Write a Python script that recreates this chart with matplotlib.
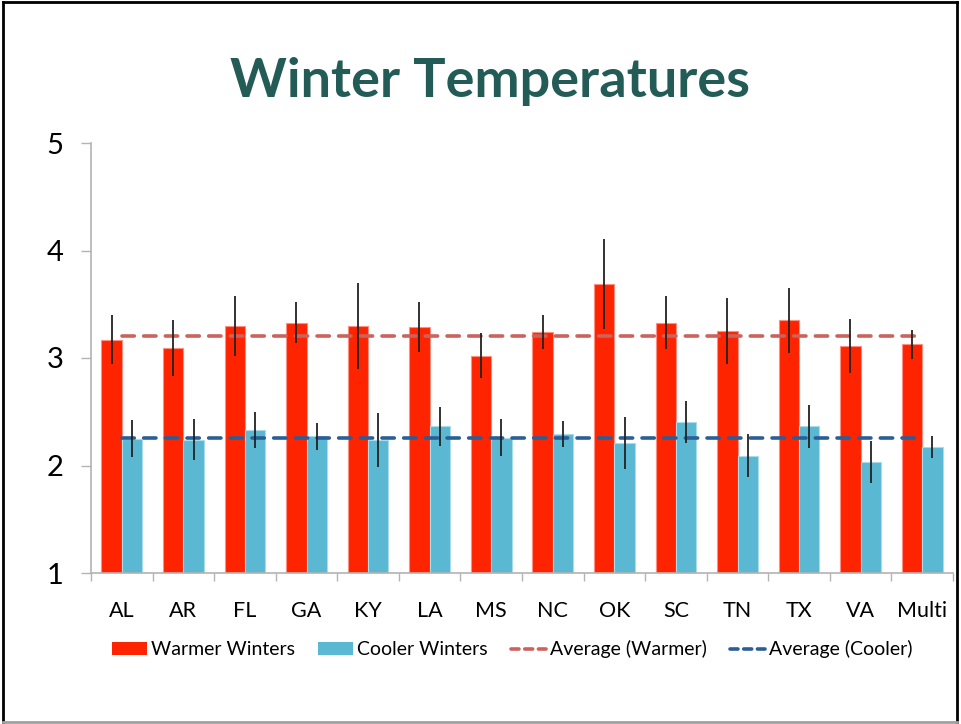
import matplotlib.pyplot as plt
from matplotlib.patches import Patch
from matplotlib.lines import Line2D
import numpy as np

# values
STATES = ['AL', 'AR', 'FL', 'GA', 'KY', 'LA', 'MS', 'NC', 'OK', 'SC', 'TN', 'TX', 'VA', 'Multi']
warmer = [3.17, 3.09, 3.30, 3.33, 3.30, 3.29, 3.02, 3.24, 3.69, 3.33, 3.25, 3.35, 3.11, 3.13]
warmer_err = [0.23, 0.26, 0.28, 0.19, 0.40, 0.23, 0.21, 0.16, 0.42, 0.25, 0.31, 0.30, 0.25, 0.135]
cooler = [2.25, 2.24, 2.33, 2.27, 2.24, 2.365, 2.26, 2.29, 2.21, 2.405, 2.09, 2.365, 2.03, 2.17]
cooler_err = [0.17, 0.19, 0.165, 0.13, 0.25, 0.18, 0.17, 0.12, 0.24, 0.195, 0.20, 0.20, 0.195, 0.10]
avg_warmer = 3.205
avg_cooler = 2.256

RED = '#ff2400'
CYAN = '#5bb8d3'
AVG_RED = '#cc625c'
AVG_BLUE = '#2a5e96'
AXIS_GRAY = '#b3b3b3'
TITLE_COLOR = '#235b57'

plt.rcParams['font.family'] = ['Lato', 'DejaVu Sans']

fig = plt.figure(figsize=(9.61, 7.24), dpi=100)
ax = fig.add_axes([91/961, 151/724, 862/961, 430/724])

x = np.arange(len(STATES))
WIDTH = 0.33
ax.bar(x - WIDTH/2, warmer, WIDTH, color=RED, edgecolor='#ff8f80', linewidth=0.8, zorder=2)
ax.bar(x + WIDTH/2, cooler, WIDTH, color=CYAN, edgecolor='#a8dcea', linewidth=0.8, zorder=2)

# Excel-like long dashes
dash = (0, (3.4, 2.6))
ax.plot([x[0], x[-1]], [avg_warmer]*2, color=AVG_RED, lw=2.6, ls=dash,
        dash_capstyle='round', zorder=3)
ax.plot([x[0], x[-1]], [avg_cooler]*2, color=AVG_BLUE, lw=2.6, ls=dash,
        dash_capstyle='round', zorder=3)

ax.errorbar(x - WIDTH/2, warmer, yerr=warmer_err, fmt='none', ecolor='#222222', elinewidth=1.3, zorder=4)
ax.errorbar(x + WIDTH/2, cooler, yerr=cooler_err, fmt='none', ecolor='#222222', elinewidth=1.3, zorder=4)

ax.set_xlim(-0.5, len(STATES) - 0.5)
ax.set_ylim(1, 5)
ax.set_yticks([1, 2, 3, 4, 5])
ax.tick_params(axis='y', length=7, width=1, color=AXIS_GRAY, labelsize=21, pad=13)
ax.set_xticks(x)
ax.set_xticklabels(STATES)
ax.tick_params(axis='x', which='major', length=0, labelsize=15.5, pad=20)
ax.set_xticks(np.arange(len(STATES) + 1) - 0.5, minor=True)
ax.tick_params(axis='x', which='minor', length=6, width=1, color=AXIS_GRAY)

for side in ['top', 'right']:
    ax.spines[side].set_visible(False)
for side in ['left', 'bottom']:
    ax.spines[side].set_color(AXIS_GRAY)
    ax.spines[side].set_linewidth(1.2)

fig.text(0.51, 0.887, 'Winter Temperatures', ha='center', va='center',
         fontsize=39, fontweight='bold', color=TITLE_COLOR)

handles = [
    Patch(facecolor=RED, edgecolor='none'),
    Patch(facecolor=CYAN, edgecolor='none'),
    Line2D([], [], color=AVG_RED, lw=2.6, ls=(0, (2.2, 1.6)), dash_capstyle='round'),
    Line2D([], [], color=AVG_BLUE, lw=2.6, ls=(0, (2.2, 1.6)), dash_capstyle='round'),
]
labels = ['Warmer Winters', 'Cooler Winters', 'Average (Warmer)', 'Average (Cooler)']
fig.legend(handles, labels, loc='center', bbox_to_anchor=(0.533, 0.103), ncol=4,
           frameon=False, fontsize=14, handlelength=1.8, handleheight=0.65,
           handletextpad=0.2, columnspacing=1.2)

# outer frame around the whole picture
fig.add_artist(Line2D([0.003, 0.003], [0.003, 0.997], transform=fig.transFigure, color='black', lw=2))
fig.add_artist(Line2D([0.003, 0.996], [0.997, 0.997], transform=fig.transFigure, color='black', lw=2))
fig.add_artist(Line2D([0.996, 0.996], [0.003, 0.997], transform=fig.transFigure, color='black', lw=2))
fig.add_artist(Line2D([0.003, 0.996], [0.003, 0.003], transform=fig.transFigure, color='#a0a0a0', lw=2))

fig.savefig('out.png', dpi=100)
